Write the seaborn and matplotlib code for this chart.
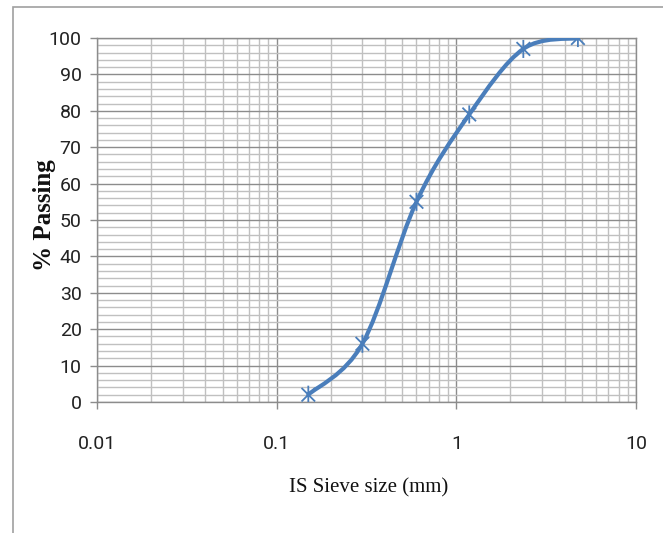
import numpy as np
import pandas as pd
import seaborn as sns
import matplotlib
matplotlib.use("Agg")
import matplotlib.pyplot as plt
from matplotlib.path import Path
from matplotlib.patches import PathPatch, Rectangle
from matplotlib.ticker import MultipleLocator, LogLocator, FixedLocator, NullFormatter

# Data
sieve_size_mm = [0.15, 0.3, 0.6, 1.18, 2.36, 4.75]
percent_passing = [2, 16, 55, 79, 97, 100]
x_tick_values = [0.01, 0.1, 1, 10]
x_tick_labels = ["0.01", "0.1", "1", "10"]
y_tick_values = [0, 10, 20, 30, 40, 50, 60, 70, 80, 90, 100]

sns.set_style("white")
tick_font = ["Roboto", "DejaVu Sans"]
serif_font = ["Liberation Serif", "DejaVu Serif"]

fig = plt.figure(figsize=(6.63, 5.33), dpi=100)
ax = fig.add_axes([97 / 663, 1 - 402 / 533, (636 - 97) / 663, (402 - 38) / 533])

line_color = "#4A7EBB"
major_c = "#8C8C8C"
minor_c = "#C0C0C0"

ax.set_xscale("log")
ax.set_xlim(0.01, 10)
ax.set_ylim(0, 100)

# Smooth (Excel-like) curve through the points, Bezier in (log x, y) space
df = pd.DataFrame({"size": sieve_size_mm, "passing": percent_passing}).sort_values("size")
u = np.log10(df["size"].to_numpy(float))
v = df["passing"].to_numpy(float)
P = np.column_stack([u, v])
n = len(P)
verts = [P[0]]
codes = [Path.MOVETO]
for i in range(n - 1):
    p_prev = P[i - 1] if i > 0 else P[i]
    p_next2 = P[i + 2] if i + 2 < n else P[i + 1]
    c1 = P[i] + (P[i + 1] - p_prev) / 6.0
    c2 = P[i + 1] - (p_next2 - P[i]) / 6.0
    verts += [c1, c2, P[i + 1]]
    codes += [Path.CURVE4] * 3
verts = np.array(verts)
verts[:, 0] = 10 ** verts[:, 0]
patch = PathPatch(Path(verts, codes), facecolor="none", edgecolor=line_color,
                  lw=3.0, transform=ax.transData, zorder=3, capstyle="round")
ax.add_patch(patch)

# Star markers (Excel style: X with vertical bar)
star = Path([(0, -1), (0, 1), (-0.75, -0.75), (0.75, 0.75), (-0.75, 0.75), (0.75, -0.75)],
            [Path.MOVETO, Path.LINETO, Path.MOVETO, Path.LINETO, Path.MOVETO, Path.LINETO])
sns.scatterplot(data=df, x="size", y="passing", marker=star, s=170,
                facecolor="none", edgecolor=line_color, linewidth=1.3,
                color=line_color, ax=ax, zorder=4, legend=False)

# Grid
ax.yaxis.set_major_locator(FixedLocator(y_tick_values))
ax.yaxis.set_minor_locator(MultipleLocator(2))
ax.xaxis.set_major_locator(FixedLocator(x_tick_values))
ax.xaxis.set_minor_locator(LogLocator(base=10, subs=np.arange(2, 10)))
ax.xaxis.set_minor_formatter(NullFormatter())
ax.set_xticklabels(x_tick_labels)
ax.grid(which="major", color=major_c, lw=1.0, zorder=0)
ax.grid(which="minor", color=minor_c, lw=1.0, zorder=0)
ax.set_axisbelow(True)

for s in ax.spines.values():
    s.set_color(major_c)
    s.set_linewidth(1.0)

ax.tick_params(axis="both", which="minor", length=0)
ax.tick_params(axis="y", which="major", direction="out", length=5, width=1,
               color=major_c, left=True, pad=6)
ax.tick_params(axis="x", which="major", direction="out", length=5, width=1,
               color=major_c, bottom=True, pad=19)
for lab in ax.get_xticklabels() + ax.get_yticklabels():
    lab.set_family(tick_font)
    lab.set_fontsize(14)
    lab.set_color("#222222")

ax.set_xlabel("IS Sieve size (mm)", family=serif_font, fontsize=15, color="#111111")
ax.set_ylabel("% Passing", family=serif_font, fontsize=18, fontweight="bold", color="#111111")
ax.xaxis.set_label_coords((369 - 97) / 539, (402 - 488) / 364)
ax.xaxis.label.set_va("center")
ax.yaxis.set_label_coords((45 - 97) / 539, (402 - 215) / 364)
ax.yaxis.label.set_va("center")

# Chart border
fig.add_artist(Rectangle((13 / 663, -0.02), 1.0, 1 - 7 / 533 + 0.02,
                         transform=fig.transFigure, fill=False,
                         edgecolor="#A0A0A0", lw=1.2))

fig.savefig("out.png", dpi=100)
